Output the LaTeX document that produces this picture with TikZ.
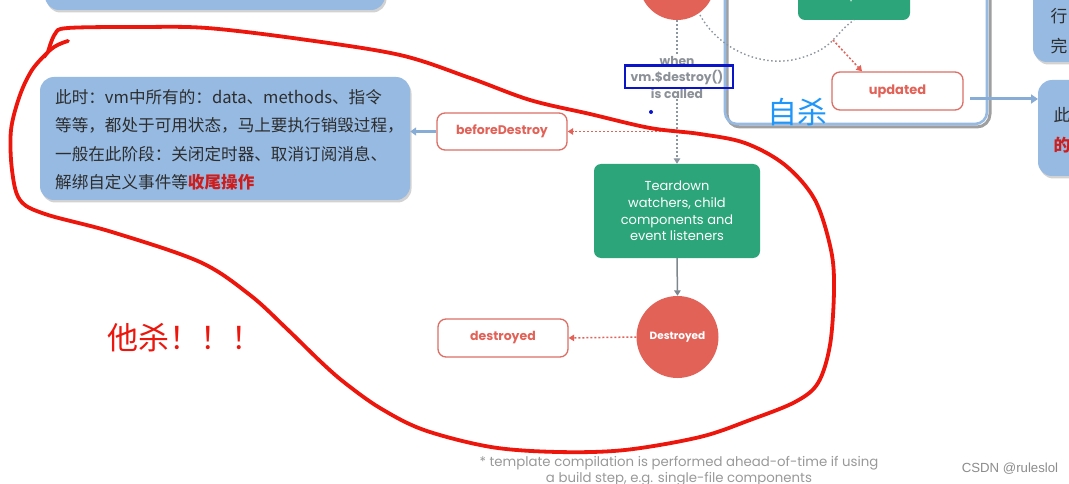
\documentclass[tikz,border=0pt]{standalone}
\usepackage{fontspec}
\setmainfont{Poppins}
\newfontfamily\cjk{Noto Sans CJK SC}
\newfontfamily\csdnfont{Liberation Sans}
\usetikzlibrary{arrows.meta,shadows}
\definecolor{vblue}{RGB}{150,186,226}
\definecolor{vbluedark}{RGB}{135,172,214}
\definecolor{vgreen}{RGB}{44,165,122}
\definecolor{vred}{RGB}{226,98,88}
\definecolor{vredline}{RGB}{220,110,100}
\definecolor{hred}{RGB}{236,22,12}
\definecolor{dgray}{RGB}{140,150,158}
\definecolor{lgray}{RGB}{140,145,152}
\definecolor{ann}{RGB}{30,150,250}
\definecolor{annbox}{RGB}{10,20,200}
\definecolor{notetext}{RGB}{45,45,45}
\definecolor{notered}{RGB}{205,30,30}
\begin{document}
\begin{tikzpicture}[x=1pt,y=-1pt,
  hookbox/.style={draw=vredline, line width=1.3pt, rounded corners=8pt, fill=white,
    minimum width=130pt, minimum height=37pt, inner sep=0pt,
    font=\bfseries\fontsize{12.5}{14}\selectfont, text=vred},
  notebox/.style={fill=vblue, rounded corners=14pt,
    drop shadow={shadow xshift=1.5pt,shadow yshift=-2.5pt,opacity=0.35}},
  greybox/.style={fill=vgreen, rounded corners=7pt, text=white},
  dotgray/.style={draw=dgray, line width=1.4pt, dash pattern=on 1.5pt off 2.5pt},
  dotred/.style={draw=vred, line width=1.5pt, dash pattern=on 2pt off 2pt},
  tipsmall/.style={-{Triangle[length=5.5pt,width=6.5pt]}},
  bluearrow/.style={draw=vbluedark, line width=3pt, -{Triangle[length=7pt,width=9pt]}},
  freehand/.style={draw=hred, line width=3.8pt, line cap=round, line join=round}
]
\useasboundingbox (0,0) rectangle (1069,484);
\fill[white] (0,0) rectangle (1069,484);
\clip (0,0) rectangle (1069,484);

% partially visible boxes at the top
\fill[notebox] (45,-40) rectangle (385,10);
\fill[notebox] (1033,-40) rectangle (1120,62);
\fill[notebox] (1038,80) rectangle (1120,176);
\node[anchor=west, font=\cjk\fontsize{16.8}{20}\selectfont, text=notetext] (rt1) at (1047,16) {行};
\node[anchor=west, font=\cjk\fontsize{16.8}{20}\selectfont, text=notetext] (rt2) at (1047,46) {完};
\node[anchor=west, font=\cjk\fontsize{16.8}{20}\selectfont, text=notetext] (rt3) at (1050,115) {此};
\node[anchor=west, font=\cjk\bfseries\fontsize{16.8}{20}\selectfont, text=notered] (rt4) at (1050,145) {的};

% update frame
\draw[gray!75, line width=3pt, rounded corners=13pt] (727,-40) rectangle (990,127);
\draw[vblue, line width=2.6pt, rounded corners=12pt] (725,-40) rectangle (987,124);

% top circle and green box
\node[circle, fill=vred, minimum size=76pt] (tc) at (677,-18) {};
\node[greybox, minimum width=112pt, minimum height=60pt] (patch) at (854,-10) {};
\node[text=white, font=\fontsize{12.5}{14}\selectfont] (patchtxt) at (854,-4) {and patch};

% updated
\node[hookbox, minimum width=131pt, minimum height=38pt, font=\bfseries\fontsize{13}{14}\selectfont] (upd) at (897.5,91) {updated};

% update loop arc
\coordinate (arcA) at (700,15);
\coordinate (arcB) at (833,40);
\draw[dotgray] (arcA) .. controls (718,48) and (758,66) .. (792,60) .. controls (812,56) and (826,48) .. (arcB) .. controls (840,33) and (845,26) .. (patch.south);
\draw[dotred, tipsmall] (arcB) -- (upd.north west -| 862,0);

% right blue arrow
\coordinate (updout) at (970,99);
\draw[bluearrow] (updout) -- (1038,99);

% when label
\node[align=center, text=lgray, font=\bfseries\fontsize{12.3}{16.5}\selectfont, inner sep=1pt] (when) at (677,77) {when\\vm.\$destroy()\\is called};
\draw[annbox, line width=2.8pt] (625,65.5) rectangle (733,88);
\fill[annbox] (651,112) circle (2pt);

% teardown
\node[greybox, minimum width=166pt, minimum height=94pt, align=center,
  font=\fontsize{13}{16.7}\selectfont, rounded corners=7pt] (tear) at (677,211)
  {Teardown\\watchers, child\\components and\\event listeners};

\draw[dotgray] (tc.south) -- (when.north);
\draw[dotgray, tipsmall] (when.south) -- (tear.north);

% beforeDestroy
\node[hookbox] (bd) at (502,131.5) {beforeDestroy};
\coordinate (junc) at (677,131.5);
\draw[dotred, tipsmall] (junc) -- (bd.east);

% note box
\node[notebox, minimum width=370pt, minimum height=123pt] (note) at (225,138.5) {};
\node[anchor=north west, align=left, inner sep=0pt, text=notetext,
  font=\cjk\fontsize{16.6}{28.5}\selectfont] (notetxt) at (55,89)
  {此时：vm中所有的：data、methods、指令\\
   等等，都处于可用状态，马上要执行销毁过程，\\
   一般在此阶段：关闭定时器、取消订阅消息、\\
   解绑自定义事件等\textcolor{notered}{\bfseries 收尾操作}};
\draw[draw=vbluedark, line width=2.5pt, -{Triangle[length=6pt,width=8pt]}] (bd.west) -- (note.east |- bd.west);

% destroyed
\node[circle, fill=vred, minimum size=82pt, inner sep=0pt, text=white,
  font=\bfseries\fontsize{10.5}{12}\selectfont] (dc) at (677.5,337) {Destroyed};
\node[hookbox, minimum height=38pt] (db) at (503,338) {destroyed};
\draw[draw=dgray!90!black, line width=1.5pt, tipsmall] (tear.south) -- (dc.north);
\draw[dotred, tipsmall] (dc.west) -- (db.east);

% footnote
\node[align=center, text=gray!80, font=\fontsize{13.3}{15.5}\selectfont] (foot) at (679,471)
  {* template compilation is performed ahead-of-time if using\\a build step, e.g. single-file components};
\node[text=gray!90, font=\csdnfont\fontsize{13.2}{15}\selectfont] (csdn) at (1010,469) {CSDN @ruleslol};

% annotations
\node[text=ann, font=\cjk\fontsize{30}{32}\selectfont] (zisha) at (797,112) {自杀};
\node[text=hred, anchor=west, font=\cjk\fontsize{31}{33}\selectfont] (tasha) at (104,338) {他杀！！！};

\draw[freehand] plot[smooth, tension=0.55] coordinates {
 (48,52) (55,34) (68,28) (140,27) (207,28) (300,39) (400,55) (470,78) (530,100)
 (590,114) (650,128) (700,134) (745,143) (785,165) (815,200) (831,250) (834,290)
 (830,345) (818,383) (795,402) (750,420) (700,437) (625,450) (558,452) (491,447)
 (424,430) (380,408) (345,383) (321,362) (286,328) (250,295) (200,262) (112,232)
 (45,214) (20,200) (12,170) (11,130) (20,95) (32,70) (46,54)};
\draw[freehand] (68,41) .. controls (58,44) and (50,48) .. (44,57);
\end{tikzpicture}
\end{document}
